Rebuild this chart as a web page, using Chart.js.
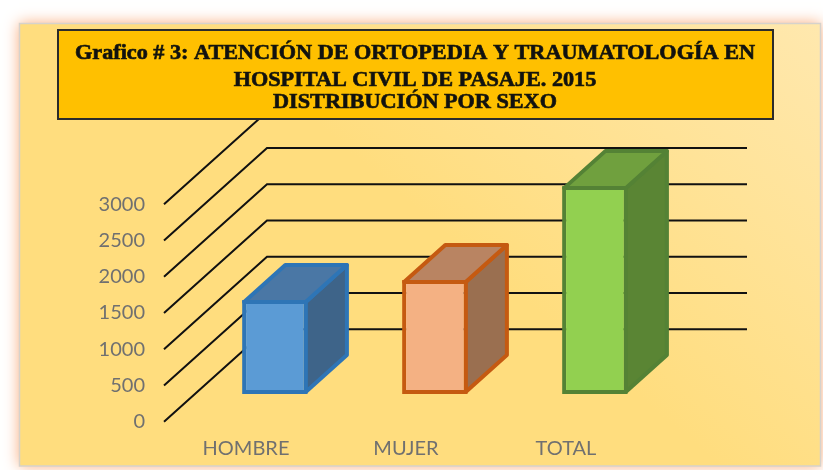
<!DOCTYPE html>
<html>
<head>
<meta charset="utf-8">
<script src="https://cdn.jsdelivr.net/npm/chart.js@4/dist/chart.umd.min.js"></script>
<style>
  html, body { margin: 0; padding: 0; background: #fff; overflow: hidden; }
  canvas { display: block; }
</style>
</head>
<body>
<canvas id="chart" width="823" height="470"></canvas>
<script>
const categories = ["HOMBRE", "MUJER", "TOTAL"];
const atenciones = [1296, 1572, 2868];

const frontColors = ["#5B9BD5", "#F4B183", "#92D050"];
const edgeColors = ["#2E75B6", "#C55A11", "#548235"];
const topColors = ["#4A77A5", "#B98462", "#70A03E"];
const sideColors = ["#3E6489", "#9A6F50", "#5A8534"];

const yTickMin = 0;
const yTickMax = 3000;
const yTickStep = 500;

const titleLines = [
    "Grafico # 3: ATENCIÓN DE ORTOPEDIA Y TRAUMATOLOGÍA EN",
    "HOSPITAL CIVIL DE PASAJE. 2015",
    "DISTRIBUCIÓN POR SEXO"
];

// oblique offset from the front of the floor to the back wall
const DEPTH_X = 103;
const DEPTH_Y = -92.5;
// bars sit between these fractions of the depth
const BAR_Z0 = 0.3;
const BAR_Z1 = 0.7;

const backdrop = {
    id: "backdrop",
    beforeDraw(chart) {
        const ctx = chart.ctx;
        ctx.save();
        ctx.fillStyle = "#fff";
        ctx.fillRect(0, 0, chart.width, chart.height);
        ctx.shadowColor = "rgba(248,150,90,0.8)";
        ctx.shadowBlur = 14;
        const g = ctx.createLinearGradient(820, 23, 560, 330);
        g.addColorStop(0, "#FFE8AE");
        g.addColorStop(1, "#FFDD7E");
        ctx.fillStyle = g;
        ctx.fillRect(19, 23, 802, 443);
        ctx.shadowColor = "transparent";
        ctx.strokeStyle = "#D6D2CC";
        ctx.lineWidth = 1.5;
        ctx.strokeRect(19.5, 23.5, 801, 442.5);
        ctx.restore();
    }
};

const box3d = {
    id: "box3d",
    beforeDatasetsDraw(chart) {
        const { ctx, chartArea, scales } = chart;
        const y = scales.y;

        // walls: diagonal on the left, horizontal on the back
        ctx.save();
        ctx.strokeStyle = "#111";
        ctx.lineWidth = 2;
        y.ticks.forEach(t => {
            const py = y.getPixelForValue(t.value);
            ctx.beginPath();
            ctx.moveTo(chartArea.left, py);
            ctx.lineTo(chartArea.left + DEPTH_X, py + DEPTH_Y);
            ctx.lineTo(chartArea.right + DEPTH_X, py + DEPTH_Y);
            ctx.stroke();
        });
        ctx.restore();

        // push the bars back into the floor, then draw their top and side
        ctx.save();
        ctx.translate(BAR_Z0 * DEPTH_X, BAR_Z0 * DEPTH_Y);
        const dx = (BAR_Z1 - BAR_Z0) * DEPTH_X;
        const dy = (BAR_Z1 - BAR_Z0) * DEPTH_Y;
        chart.getDatasetMeta(0).data.forEach((bar, i) => {
            const p = bar.getProps(["x", "y", "base", "width"], true);
            const L = p.x - p.width / 2 + 2;
            const R = p.x + p.width / 2 - 2;
            const T = p.y + 2;
            const B = p.base - 2;
            ctx.lineJoin = "round";
            ctx.lineWidth = 4;
            ctx.strokeStyle = edgeColors[i];

            ctx.beginPath();
            ctx.moveTo(R, T);
            ctx.lineTo(R + dx, T + dy);
            ctx.lineTo(R + dx, B + dy);
            ctx.lineTo(R, B);
            ctx.closePath();
            ctx.fillStyle = sideColors[i];
            ctx.fill();
            ctx.stroke();

            ctx.beginPath();
            ctx.moveTo(L, T);
            ctx.lineTo(L + dx, T + dy);
            ctx.lineTo(R + dx, T + dy);
            ctx.lineTo(R, T);
            ctx.closePath();
            ctx.fillStyle = topColors[i];
            ctx.fill();
            ctx.stroke();
        });
    },
    afterDatasetsDraw(chart) {
        chart.ctx.restore();
    }
};

const titleBox = {
    id: "titleBox",
    afterDraw(chart) {
        const ctx = chart.ctx;
        ctx.save();
        ctx.fillStyle = "#FFC000";
        ctx.fillRect(58, 30, 715, 89);
        ctx.strokeStyle = "#2b2b2b";
        ctx.lineWidth = 2;
        ctx.strokeRect(58, 30, 715, 89);
        ctx.font = 'bold 22px "Liberation Serif"';
        ctx.fillStyle = "#111";
        ctx.strokeStyle = "#1a1a0a";
        ctx.lineWidth = 0.7;
        ctx.textAlign = "center";
        ctx.textBaseline = "alphabetic";
        const sx = 680 / ctx.measureText(titleLines[0]).width;
        const baselines = [58.7, 85.8, 107.8];
        titleLines.forEach((line, i) => {
            ctx.save();
            ctx.translate(415, baselines[i]);
            ctx.scale(sx, 1);
            ctx.fillText(line, 0, 0);
            ctx.strokeText(line, 0, 0);
            ctx.restore();
        });
        ctx.restore();
    }
};

new Chart(document.getElementById("chart"), {
    type: "bar",
    data: {
        labels: categories,
        datasets: [
            {
                data: atenciones,
                backgroundColor: frontColors,
                borderColor: edgeColors,
                borderWidth: 4,
                borderSkipped: false,
                barPercentage: 0.41,
                categoryPercentage: 1,
                clip: false
            }
        ]
    },
    options: {
        responsive: false,
        animation: false,
        devicePixelRatio: 1,
        layout: {
            padding: { left: 0, right: 179, top: 204.3, bottom: 0 }
        },
        plugins: {
            legend: { display: false },
            tooltip: { enabled: false },
            title: { display: false }
        },
        scales: {
            x: {
                grid: { display: false, drawTicks: false },
                border: { display: false },
                ticks: {
                    color: "#707070",
                    font: { family: "Lato", size: 20 },
                    padding: 15,
                    labelOffset: 2
                },
                afterFit: s => { s.height = 48.3; }
            },
            y: {
                min: yTickMin,
                max: yTickMax,
                grid: { display: false, drawTicks: false },
                border: { display: false },
                ticks: {
                    stepSize: yTickStep,
                    color: "#707070",
                    font: { family: "Lato", size: 20 },
                    padding: 19,
                    callback: v => String(v)
                },
                afterFit: s => { s.width = 164; }
            }
        }
    },
    plugins: [backdrop, box3d, titleBox]
});
</script>
</body>
</html>
